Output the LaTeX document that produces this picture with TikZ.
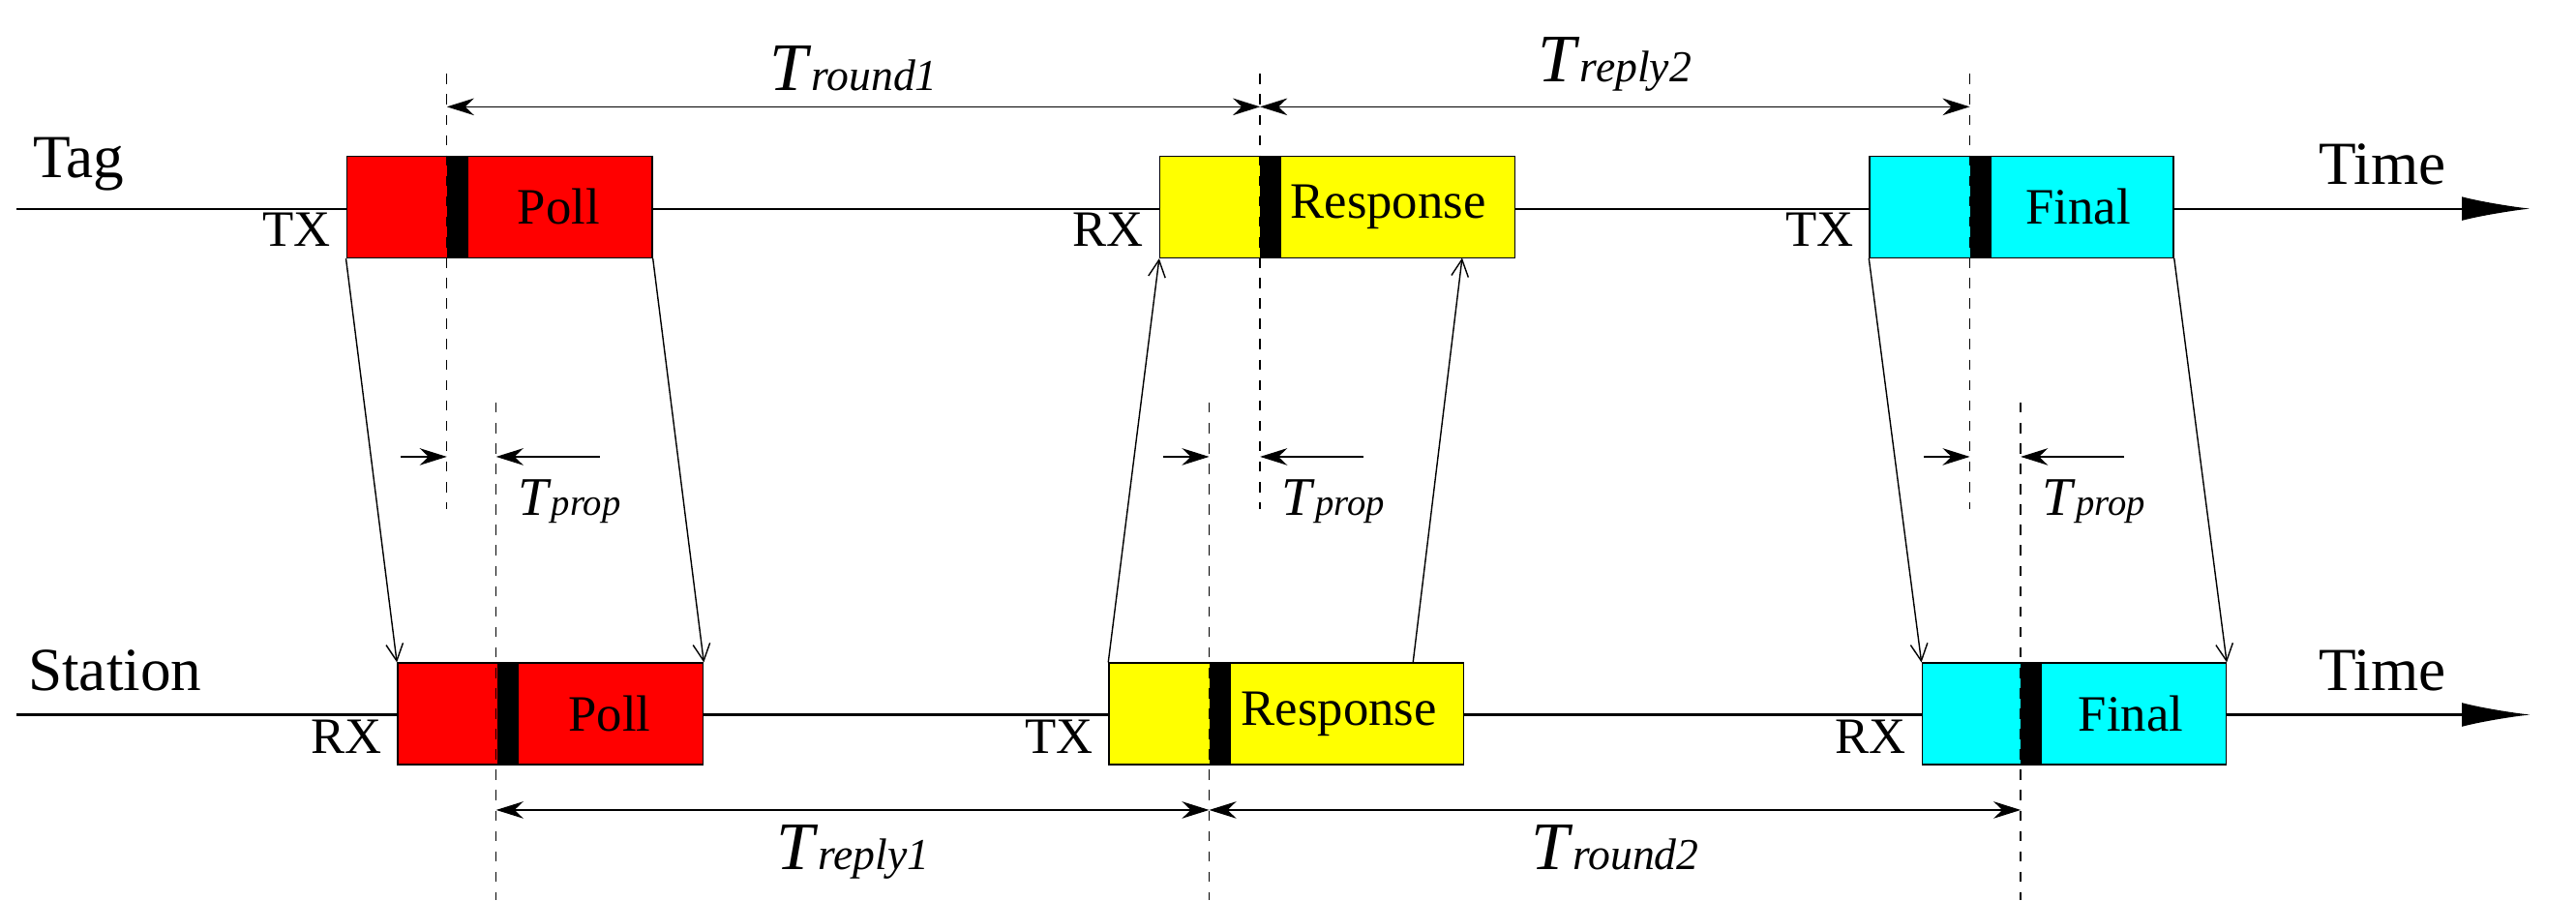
\documentclass[tikz,border=0pt]{standalone}
\usepackage{fontspec}
\setmainfont{Liberation Serif}
\usetikzlibrary{arrows.meta, positioning, calc}
\definecolor{pcyan}{RGB}{0,255,255}
\definecolor{pyellow}{RGB}{255,255,0}
\definecolor{pred}{RGB}{255,0,0}
\newcommand{\tint}[1]{\textit{T}{\fontsize{13}{13}\selectfont\textit{#1}}}

\begin{document}
\begin{tikzpicture}[
    x=0.01698cm, y=-0.01698cm,
    frame/.style={rectangle, draw=black, thin, minimum height=1.05cm, inner sep=0pt},
    bar/.style={rectangle, fill=black, minimum width=0.22cm, minimum height=1.05cm, inner sep=0pt},
    lbl/.style={font=\fontsize{15}{15}\selectfont},
    big/.style={font=\fontsize{18}{18}\selectfont},
    dim/.style={{Stealth[length=8pt,width=5pt]}-{Stealth[length=8pt,width=5pt]}, thin},
    tick/.style={-{Stealth[length=8pt,width=5pt]}, thin},
    msg/.style={-{Straight Barb[length=5pt,width=5pt]}, thin},
    guide/.style={dashed, thin},
    tt/.style={font=\fontsize{20}{20}\selectfont}
]
\useasboundingbox (0,0) rectangle (1568,548);

% time lines
\draw[semithick, -{Latex[length=20pt,width=7pt]}] (10,127) -- (1540,127);
\draw[semithick, -{Latex[length=20pt,width=7pt]}] (10,435) -- (1540,435);
\node[big] (tag) at (48,100) {Tag};
\node[big] (station) at (70,408) {Station};
\node[big] (time1) at (1450,100) {Time};
\node[big] (time2) at (1450,408) {Time};

% tag frames
\node[frame, fill=pred, minimum width=186*0.01698cm] (tpoll) at (304,126) {};
\node[bar] at (278.5,126) {};
\node[lbl] at (340,126) {Poll};
\node[frame, fill=pyellow, minimum width=216*0.01698cm] (tresp) at (814,126) {};
\node[bar] at (773.5,126) {};
\node[lbl] at (845,126) {Response};
\node[frame, fill=pcyan, minimum width=185*0.01698cm] (tfinal) at (1230.5,126) {};
\node[bar] at (1205.5,126) {};
\node[lbl] at (1265,126) {Final};

% station frames
\node[frame, fill=pred, minimum width=186*0.01698cm] (spoll) at (335,434.5) {};
\node[bar] at (309,434.5) {};
\node[lbl] at (371,434.5) {Poll};
\node[frame, fill=pyellow, minimum width=216*0.01698cm] (sresp) at (783,434.5) {};
\node[bar] at (742.5,434.5) {};
\node[lbl] at (815,434.5) {Response};
\node[frame, fill=pcyan, minimum width=185*0.01698cm] (sfinal) at (1262.5,434.5) {};
\node[bar] at (1236.5,434.5) {};
\node[lbl] at (1297,434.5) {Final};

% TX / RX
\node[lbl, left=1pt of tpoll.south west, anchor=south east] {TX};
\node[lbl, left=1pt of tresp.south west, anchor=south east] {RX};
\node[lbl, left=1pt of tfinal.south west, anchor=south east] {TX};
\node[lbl, left=1pt of spoll.south west, anchor=south east] {RX};
\node[lbl, left=1pt of sresp.south west, anchor=south east] {TX};
\node[lbl, left=1pt of sfinal.south west, anchor=south east] {RX};

% messages
\coordinate (ra) at (860,404);
\coordinate (rb) at (890,157);
\draw[msg] (tpoll.south west) -- (spoll.north west);
\draw[msg] (tpoll.south east) -- (spoll.north east);
\draw[msg] (sresp.north west) -- (tresp.south west);
\draw[msg] (ra) -- (rb);
\draw[msg] (tfinal.south west) -- (sfinal.north west);
\draw[msg] (tfinal.south east) -- (sfinal.north east);

% guides
\foreach \x in {272,767,1199} \draw[guide] (\x,45) -- (\x,310);
\foreach \x in {302,736,1230} \draw[guide] (\x,245) -- (\x,548);

% intervals
\coordinate (a1) at (272,65); \coordinate (a2) at (767,65); \coordinate (a3) at (1199,65);
\coordinate (b1) at (302,493); \coordinate (b2) at (736,493); \coordinate (b3) at (1230,493);
\draw[dim] (a1) -- (a2) node[tt, midway, above=1pt] {\tint{round1}};
\draw[dim] (a2) -- (a3) node[tt, midway, above=1pt] {\tint{reply2}};
\draw[dim] (b1) -- (b2) node[tt, midway, below=1pt] {\tint{reply1}};
\draw[dim] (b2) -- (b3) node[tt, midway, below=1pt] {\tint{round2}};

% propagation
\foreach \l/\r in {272/302,736/767,1199/1230}{
  \draw[tick] (\l-28,278) -- (\l,278);
  \draw[tick] (\r+63,278) -- (\r,278);
  \node[font=\fontsize{16}{16}\selectfont, anchor=west] at (\r+6,305) {\textit{T}{\fontsize{11}{11}\selectfont\textit{prop}}};
}
\end{tikzpicture}
\end{document}
